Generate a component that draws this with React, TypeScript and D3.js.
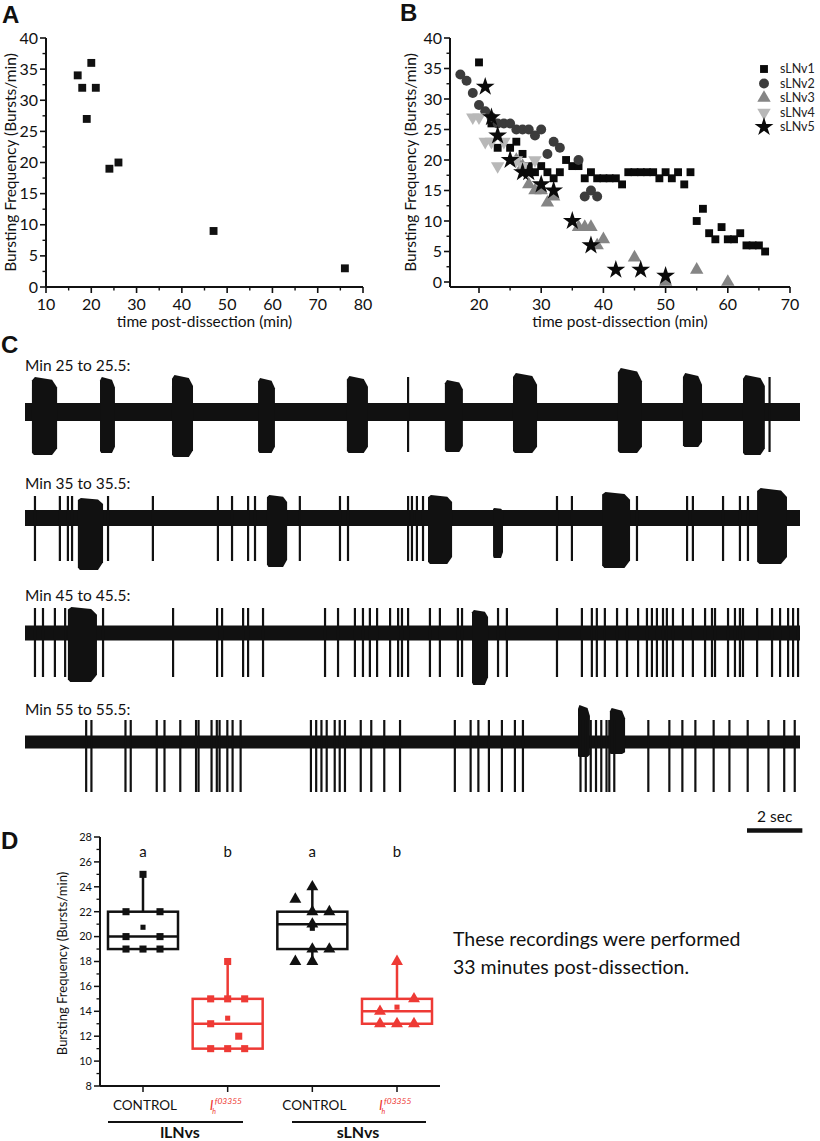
import React from "react";
import * as d3 from "d3";

// ---------- Panel A data ----------
const aTime = [17, 18, 19, 20, 21, 24, 26, 47, 76];
const aFreq = [34, 32, 27, 36, 32, 19, 20, 9, 3];

// ---------- Panel B data ----------
const sLNv1: [number, number][] = [
  [20, 36], [22, 26], [23, 22], [25, 22], [26, 23], [27, 21], [28, 19], [28, 18], [29, 18], [30, 19],
  [31, 18], [32, 17], [33, 18], [34, 20], [35, 19], [36, 19], [37, 17], [38, 18], [39, 17], [40, 17],
  [41, 17], [42, 17], [43, 16], [44, 18], [45, 18], [46, 18], [47, 18], [48, 18], [49, 17], [50, 18],
  [51, 17], [52, 18], [53, 16], [54, 18], [55, 10], [56, 12], [57, 8], [58, 7], [59, 9], [60, 7],
  [61, 7], [62, 8], [63, 6], [64, 6], [65, 6], [66, 5],
];
const sLNv2: [number, number][] = [
  [17, 34], [18, 33], [19, 31], [20, 29], [21, 28], [22, 27], [23, 26], [24, 26], [25, 26], [26, 25],
  [27, 25], [28, 25], [29, 24], [30, 25], [31, 21], [32, 23], [33, 22], [36, 20], [37, 14], [38, 15], [39, 14],
];
const sLNv3: [number, number][] = [
  [26, 20], [27, 19], [28, 16], [29, 15], [30, 15], [31, 13], [32, 14], [36, 9], [37, 9], [38, 9],
  [39, 6], [40, 7], [45, 4], [50, 0], [55, 2], [60, 0],
];
const sLNv4: [number, number][] = [
  [19, 27], [20, 27], [21, 23], [22, 23], [23, 19], [24, 23], [26, 20], [27, 19], [29, 20],
];
const sLNv5: [number, number][] = [
  [21, 32], [22, 27], [23, 24], [25, 20], [27, 18], [28, 18], [30, 16], [32, 15], [35, 10], [38, 6],
  [42, 2], [46, 2], [50, 1],
];
const seriesNames = ["sLNv1", "sLNv2", "sLNv3", "sLNv4", "sLNv5"];

// ---------- Panel C data (seconds; amplitudes in trace units) ----------
const traceLabels = ["Min 25 to 25.5:", "Min 35 to 35.5:", "Min 45 to 45.5:", "Min 55 to 55.5:"];
// [start s, end s, up amplitude, down amplitude]
const trace1Bursts = [
  [0.25, 1.16, 35, 43], [2.71, 3.25, 35, 41], [5.31, 6.07, 37, 45], [8.42, 9.03, 34, 41],
  [11.63, 12.39, 36, 41], [15.17, 15.82, 32, 40], [17.63, 18.5, 39, 41], [21.42, 22.29, 44, 41],
  [23.77, 24.46, 39, 35], [25.94, 26.73, 37, 43],
];
const trace1Spikes = [13.84, 26.9];
const trace2Bursts = [
  [1.91, 2.82, 20, 52], [8.74, 9.47, 23, 49], [14.56, 15.43, 23, 46], [16.91, 17.27, 10, 40],
  [20.85, 21.86, 26, 50], [26.45, 27.53, 30, 46],
];
const trace2Spikes = [
  0.36, 1.26, 1.55, 1.7, 3.0, 4.62, 6.97, 7.48, 8.06, 8.31, 9.93, 11.38, 11.67, 13.84, 13.98, 14.16,
  14.38, 19.22, 19.76, 22.11, 23.92, 24.13, 25.22, 25.83, 26.12,
];
const trace3Bursts = [[1.55, 2.6, 26, 49], [16.15, 16.73, 23, 52]];
const trace3Spikes = [
  0.36, 0.65, 1.08, 1.45, 2.82, 5.35, 6.94, 7.12, 7.88, 8.06, 8.6, 10.84, 11.31, 11.92, 12.21, 12.46,
  12.72, 13.19, 13.48, 13.62, 13.84, 14.63, 14.99, 15.64, 15.79, 17.09, 17.41, 19.22, 20.12, 20.48,
  20.66, 20.95, 21.39, 21.75, 22.15, 22.47, 22.65, 22.83, 23.05, 23.19, 23.41, 23.77, 24.13, 24.57,
  24.82, 24.93, 25.4, 25.65, 25.83, 25.94, 26.45, 26.99, 27.28, 27.57, 27.75, 27.93,
];
const trace4Bursts = [[19.98, 20.41, 37, 15], [21.13, 21.68, 34, 12]];
const trace4Spikes = [
  2.21, 2.4, 3.63, 3.82, 4.76, 5.04, 5.61, 6.18, 6.27, 6.74, 6.93, 7.03, 7.31, 7.5, 7.79, 10.33,
  10.52, 10.71, 10.9, 11.19, 11.37, 11.56, 12.13, 12.51, 12.98, 13.55, 15.53, 16.1, 16.38, 16.76,
  17.23, 17.7, 17.99, 20.07, 20.26, 20.44, 20.63, 20.82, 21.01, 21.11, 21.29, 22.52, 23.28, 23.75,
  24.22, 24.88, 25.45, 26.11, 26.86, 27.43, 27.81,
];
const traceSpikeUp = [35, 22, 25, 22];
const traceSpikeDown = [40, 43, 44, 50];
const traceNoise = [9, 8, 7.5, 6.5];
const scaleBarSec = 2;

// ---------- Panel D data ----------
const dGroups = ["lLNv-CONTROL", "lLNv-Ih", "sLNv-CONTROL", "sLNv-Ih"];
const ctrlL = [25, 22, 22, 20, 20, 19, 19, 19];
const ctrlLSlot = [0, -1, 1, -1, 1, -1, 0, 1];
const ihL = [18, 15, 15, 15, 13, 12, 11, 11, 11];
const ihLSlot = [0, -1, 0, 1, -1, 0.65, -1, 0, 1];
const ctrlS = [24, 23, 22, 22, 21, 19, 19, 18, 18];
const ctrlSSlot = [0, -1, 0, 1, 0, 0, 1, -1, 0];
const ihS = [18, 15, 14, 13, 13, 13];
const ihSSlot = [0, 1, -1, -1, 0, 1];
// [min, q1, median, q3, max]
const statsCtrlL = [19, 19, 20, 22, 25];
const statsIhL = [11, 11, 13, 15, 18];
const statsCtrlS = [18, 19, 21, 22, 24];
const statsIhS = [13, 13, 14, 15, 18];
const sigLetters = ["a", "b", "a", "b"];
const dYTicks = d3.range(8, 29, 2);
const dYMinor = d3.range(9, 28, 2);

const FONT = "Lato, 'Open Sans', sans-serif";
const RED = "#ee3a35";
const INK = "#111";

const sym = (type: any, size: number) => d3.symbol().type(type).size(size)() as string;

function ScatterAxes({ x, y, xTicks, xMinor, yTicks, yMinor, xStart, xEnd, yAxisY, label }: any) {
  const yTop = y(40);
  return (
    <g fontFamily={FONT} fill={INK}>
      <line x1={xStart} x2={xStart} y1={yTop} y2={yAxisY} stroke={INK} strokeWidth={2} />
      <line x1={xStart} x2={xEnd} y1={yAxisY} y2={yAxisY} stroke={INK} strokeWidth={2} />
      {yTicks.map((t: number) => (
        <g key={"y" + t}>
          <line x1={xStart - 6} x2={xStart} y1={y(t)} y2={y(t)} stroke={INK} strokeWidth={1.6} />
          <text x={xStart - 8} y={y(t)} dy="0.35em" textAnchor="end" fontSize={16}>{t}</text>
        </g>
      ))}
      {yMinor.map((t: number) => (
        <line key={"ym" + t} x1={xStart - 3.5} x2={xStart} y1={y(t)} y2={y(t)} stroke={INK} strokeWidth={1.4} />
      ))}
      {xTicks.map((t: number) => (
        <g key={"x" + t}>
          <line x1={x(t)} x2={x(t)} y1={yAxisY} y2={yAxisY + 6} stroke={INK} strokeWidth={1.6} />
          <text x={x(t)} y={yAxisY + 23} textAnchor="middle" fontSize={16}>{t}</text>
        </g>
      ))}
      {xMinor.map((t: number) => (
        <line key={"xm" + t} x1={x(t)} x2={x(t)} y1={yAxisY} y2={yAxisY + 3.5} stroke={INK} strokeWidth={1.4} />
      ))}
      <text x={(xStart + xEnd) / 2} y={yAxisY + 40} textAnchor="middle" fontSize={15.5}>time post-dissection (min)</text>
      <text transform={`translate(${label},${(yTop + yAxisY) / 2}) rotate(-90)`} textAnchor="middle" fontSize={15.5}>
        Bursting Frequency (Bursts/min)
      </text>
    </g>
  );
}

function Trace({ cy, bursts, spikes, idx, tx }: any) {
  const noise = traceNoise[idx];
  const up = traceSpikeUp[idx];
  const dn = traceSpikeDown[idx];
  const [t0, t1] = tx.domain();
  return (
    <g fill={INK} stroke="none">
      <rect x={tx(t0)} y={cy - noise} width={tx(t1) - tx(t0)} height={noise * 2} />
      {bursts.map((b: number[], i: number) => {
        const xa = tx(b[0]);
        const xb = tx(b[1]);
        const w = xb - xa;
        // burst envelope: sharp onset, decaying discharge
        const d = `M${xa},${cy - noise} L${xa},${cy - b[2] * 0.9} L${xa + w * 0.12},${cy - b[2]} L${xa + w * 0.8},${cy - b[2] * 0.92} L${xb},${cy - b[2] * 0.7} L${xb},${cy + b[3] * 0.85} L${xa + w * 0.8},${cy + b[3]} L${xa + w * 0.08},${cy + b[3]} L${xa},${cy + b[3] * 0.95} Z`;
        return <path key={"b" + i} d={d} />;
      })}
      {spikes.map((s: number, i: number) => (
        <line key={"s" + i} x1={tx(s)} x2={tx(s)} y1={cy - up} y2={cy + dn} stroke={INK} strokeWidth={2.2} />
      ))}
    </g>
  );
}

export default function App() {
  // Panel A
  const xA = d3.scaleLinear().domain([10, 80]).range([46, 363]);
  const yA = d3.scaleLinear().domain([0, 40]).range([287, 38]);
  // Panel B
  const xB = d3.scaleLinear().domain([20, 70]).range([479, 790]);
  const yB = d3.scaleLinear().domain([0, 40]).range([282, 38]);
  const bSeries = [sLNv1, sLNv2, sLNv3, sLNv4, sLNv5];
  const bColors = ["#0a0a0a", "#3c3c3c", "#858585", "#b8b8b8", "#0a0a0a"];
  const bShapes = [
    sym(d3.symbolSquare, 62),
    sym(d3.symbolCircle, 78),
    sym(d3.symbolTriangle, 78),
    sym(d3.symbolTriangle, 78),
    sym(d3.symbolStar, 110),
  ];
  const bRot = [0, 0, 0, 180, 0];

  // Panel C
  const tx = d3.scaleLinear().domain([0, 28]).range([25, 800]);
  const traceCy = [412, 518, 633, 742];
  const traceLabelY = [371, 489, 601, 715];
  const traceData = [
    [trace1Bursts, trace1Spikes],
    [trace2Bursts, trace2Spikes],
    [trace3Bursts, trace3Spikes],
    [trace4Bursts, trace4Spikes],
  ];
  const barX1 = 747;
  const barX2 = barX1 + (tx(scaleBarSec) - tx(0));

  // Panel D
  const xD = d3.scalePoint().domain(dGroups).range([143, 397]);
  const yD = d3.scaleLinear().domain([8, 28]).range([1086, 837]);
  const dPoints = [ctrlL, ihL, ctrlS, ihS];
  const dSlots = [ctrlLSlot, ihLSlot, ctrlSSlot, ihSSlot];
  const dStats = [statsCtrlL, statsIhL, statsCtrlS, statsIhS];
  const dColors = [INK, RED, INK, RED];
  const dShape = [sym(d3.symbolSquare, 50), sym(d3.symbolSquare, 50), sym(d3.symbolTriangle, 62), sym(d3.symbolTriangle, 62)];
  const meanShape = sym(d3.symbolSquare, 26);
  const boxHalf = 35;
  const slotW = 17;

  return (
    <svg width={820} height={1141} style={{ position: "absolute", left: 0, top: 0 }} fontFamily={FONT}>
      <rect width={820} height={1141} fill="#fff" />
      {/* Panel labels */}
      <g fontFamily="Arial, 'Liberation Sans', sans-serif" fontWeight="bold" fontSize={24} fill={INK}>
        <text x={2} y={23}>A</text>
        <text x={400} y={21}>B</text>
        <text x={1} y={353}>C</text>
        <text x={1} y={849}>D</text>
      </g>

      {/* Panel A */}
      <ScatterAxes x={xA} y={yA} xTicks={d3.range(10, 81, 10)} xMinor={d3.range(15, 80, 10)}
        yTicks={d3.range(0, 41, 5)} yMinor={d3.range(2.5, 40, 5)} xStart={46} xEnd={363} yAxisY={287} label={16} />
      {aTime.map((t, i) => (
        <path key={"a" + i} d={sym(d3.symbolSquare, 62)} transform={`translate(${xA(t)},${yA(aFreq[i])})`} fill={INK} />
      ))}

      {/* Panel B */}
      <ScatterAxes x={xB} y={yB} xTicks={d3.range(20, 71, 10)} xMinor={d3.range(25, 70, 10)}
        yTicks={d3.range(0, 41, 5)} yMinor={d3.range(2.5, 40, 5)} xStart={450} xEnd={790} yAxisY={287} label={416} />
      {bSeries.map((s, si) => (
        <g key={"bs" + si} fill={bColors[si]}>
          {s.map((p, i) => (
            <path key={i} d={bShapes[si]} transform={`translate(${xB(p[0])},${yB(p[1])}) rotate(${bRot[si]})`} />
          ))}
        </g>
      ))}
      <g fontFamily={FONT} fontSize={12.5} fill="#222">
        {seriesNames.map((n, i) => (
          <g key={n} transform={`translate(764,${69 + i * 14.5})`}>
            <path d={bShapes[i]} fill={bColors[i]} transform={`rotate(${bRot[i]})`} />
            <text x={16} dy="0.35em">{n}</text>
          </g>
        ))}
      </g>

      {/* Panel C */}
      {traceLabels.map((l, i) => (
        <text key={l} x={25} y={traceLabelY[i]} fontSize={15.5} fill={INK}>{l}</text>
      ))}
      {traceData.map((d, i) => (
        <Trace key={"tr" + i} cy={traceCy[i]} bursts={d[0]} spikes={d[1]} idx={i} tx={tx} />
      ))}
      <text x={(barX1 + barX2) / 2} y={822} textAnchor="middle" fontSize={15.5} fill={INK}>{scaleBarSec} sec</text>
      <line x1={barX1} x2={barX2} y1={830.5} y2={830.5} stroke={INK} strokeWidth={4.5} />

      {/* Panel D */}
      <g fill={INK} fontFamily={FONT}>
        <line x1={100} x2={100} y1={yD(28)} y2={yD(8)} stroke={INK} strokeWidth={2} />
        <line x1={100} x2={440} y1={yD(8)} y2={yD(8)} stroke={INK} strokeWidth={2} />
        {dYTicks.map((t) => (
          <g key={"dy" + t}>
            <line x1={94} x2={100} y1={yD(t)} y2={yD(t)} stroke={INK} strokeWidth={1.5} />
            <text x={92} y={yD(t)} dy="0.35em" textAnchor="end" fontSize={11}>{t}</text>
          </g>
        ))}
        {dYMinor.map((t) => (
          <line key={"dm" + t} x1={96.5} x2={100} y1={yD(t)} y2={yD(t)} stroke={INK} strokeWidth={1.3} />
        ))}
        {dGroups.map((g) => (
          <line key={"dt" + g} x1={xD(g)} x2={xD(g)} y1={yD(8)} y2={yD(8) + 6} stroke={INK} strokeWidth={1.5} />
        ))}
        <text transform={`translate(67,${(yD(28) + yD(8)) / 2 + 2}) rotate(-90)`} textAnchor="middle" fontSize={13}>
          Bursting Frequency (Bursts/min)
        </text>
      </g>
      {dGroups.map((g, gi) => {
        const cx = xD(g) as number;
        const st = dStats[gi];
        const c = dColors[gi];
        return (
          <g key={"box" + g}>
            <text x={cx} y={857} textAnchor="middle" fontSize={15} fill={INK}>{sigLetters[gi]}</text>
            <line x1={cx} x2={cx} y1={yD(st[3])} y2={yD(st[4])} stroke={c} strokeWidth={2.5} />
            <line x1={cx} x2={cx} y1={yD(st[1])} y2={yD(st[0])} stroke={c} strokeWidth={2.5} />
            <rect x={cx - boxHalf} y={yD(st[3])} width={boxHalf * 2} height={yD(st[1]) - yD(st[3])}
              fill="none" stroke={c} strokeWidth={2.5} />
            <line x1={cx - boxHalf} x2={cx + boxHalf} y1={yD(st[2])} y2={yD(st[2])} stroke={c} strokeWidth={2.5} />
            {dPoints[gi].map((v, i) => (
              <path key={i} d={dShape[gi]} fill={c}
                transform={`translate(${cx + dSlots[gi][i] * slotW},${yD(v)})`} />
            ))}
            <path d={meanShape} fill={c} transform={`translate(${cx},${yD(d3.mean(dPoints[gi]) as number)})`} />
          </g>
        );
      })}
      {/* category labels */}
      {[0, 2].map((gi) => (
        <text key={"cl" + gi} x={(xD(dGroups[gi]) as number) + 2} y={1110} textAnchor="middle" fontSize={13.5} fill={INK}>
          CONTROL
        </text>
      ))}
      {[1, 3].map((gi) => {
        const cx = xD(dGroups[gi]) as number;
        return (
          <g key={"ih" + gi} fill={RED} fontStyle="italic">
            <text x={cx - 18} y={1110} fontSize={14}>I</text>
            <text x={cx - 15.5} y={1114} fontSize={7}>h</text>
            <text x={cx - 13} y={1104} fontSize={8.5}>f03355</text>
          </g>
        );
      })}
      <line x1={108} x2={243} y1={1122} y2={1122} stroke={INK} strokeWidth={2.2} />
      <line x1={292} x2={426} y1={1122} y2={1122} stroke={INK} strokeWidth={2.2} />
      <text x={180} y={1138} textAnchor="middle" fontSize={16} fontWeight="bold" fill={INK}>lLNvs</text>
      <text x={358} y={1138} textAnchor="middle" fontSize={16} fontWeight="bold" fill={INK}>sLNvs</text>

      <text x={453} y={946} fontSize={19.5} fill={INK}>These recordings were performed</text>
      <text x={453} y={974} fontSize={19.5} fill={INK}>33 minutes post-dissection.</text>
    </svg>
  );
}
